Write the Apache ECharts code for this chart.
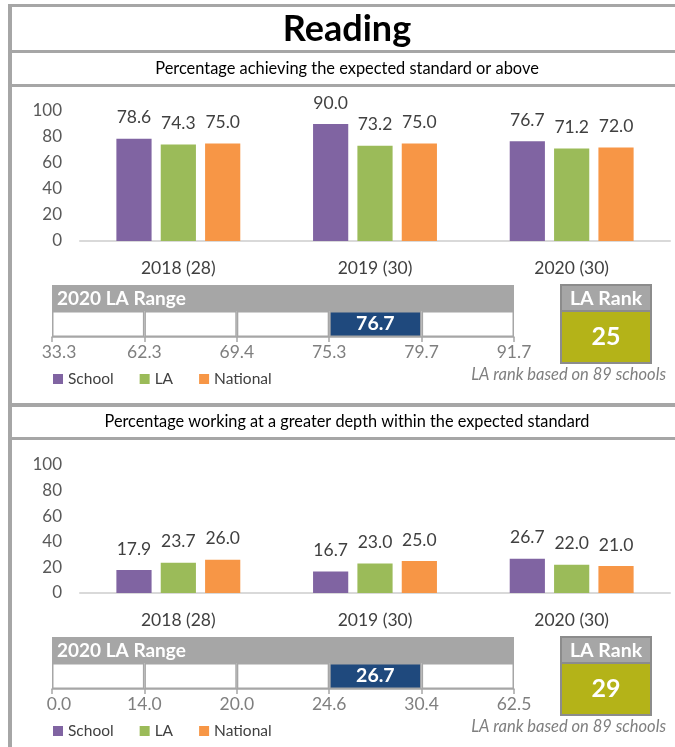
<!DOCTYPE html>
<html><head><meta charset="utf-8">
<script src="https://cdn.jsdelivr.net/npm/echarts@6/dist/echarts.min.js"></script>
<style>html,body{margin:0;padding:0;background:#fff}#c{width:675px;height:747px}</style>
</head><body><div id="c"></div>
<script>
// ---- data ----
const categories = ['2018 (28)', '2019 (30)', '2020 (30)'];
const seriesNames = ['School', 'LA', 'National'];
const expSchool = [78.6, 90.0, 76.7];
const expLA = [74.3, 73.2, 71.2];
const expNational = [75.0, 75.0, 72.0];
const gdSchool = [17.9, 16.7, 26.7];
const gdLA = [23.7, 23.0, 22.0];
const gdNational = [26.0, 25.0, 21.0];
const expRangeBounds = ['33.3', '62.3', '69.4', '75.3', '79.7', '91.7'];
const gdRangeBounds = ['0.0', '14.0', '20.0', '24.6', '30.4', '62.5'];
const rangeBands = [1, 1, 1, 1, 1];
const expSchoolBand = 3;
const gdSchoolBand = 3;
const expSchool2020 = '76.7';
const gdSchool2020 = '26.7';
const expRank = '25';
const gdRank = '29';
const rankSchools = 89;
const titleText = 'Reading';
const expSubtitle = 'Percentage achieving the expected standard or above';
const gdSubtitle = 'Percentage working at a greater depth within the expected standard';
const rangeTitle = '2020 LA Range';

// ---- styles ----
const FONT = 'Lato, "Open Sans", sans-serif';
const colors = ['#8064a2', '#9bbb59', '#f79646'];
const GRAY = '#a6a6a6';
const NAVY = '#1f497d';
const OLIVE = '#b4b318';

const chart = echarts.init(document.getElementById('c'));

function barSeries(vals, i, axisIdx) {
  return {
    type: 'bar', name: seriesNames[i], xAxisIndex: axisIdx, yAxisIndex: axisIdx,
    data: vals, barGap: '26%', barCategoryGap: '37%',
    itemStyle: { color: colors[i] },
    label: { show: true, position: 'top', distance: 12, formatter: p => p.value.toFixed(1),
      color: '#404040', fontSize: 17.5, fontFamily: FONT },
    emphasis: { disabled: true }
  };
}
function rangeSeries(band, schoolVal, axisIdx, stackName) {
  return rangeBands.map((v, i) => ({
    type: 'bar', xAxisIndex: axisIdx, yAxisIndex: axisIdx, stack: stackName,
    data: [v], barWidth: '100%', silent: true,
    itemStyle: { color: i === band ? NAVY : '#ffffff', borderColor: GRAY, borderWidth: 1.5 },
    label: i === band ? { show: true, position: 'inside', formatter: schoolVal, color: '#fff',
      fontWeight: 'bold', fontSize: 19.5, fontFamily: FONT } : { show: false }
  }));
}
function barX(gi) {
  return { type: 'category', gridIndex: gi, data: categories,
    axisLine: { lineStyle: { color: '#d9d9d9', width: 2 } }, axisTick: { show: false },
    axisLabel: { color: '#404040', fontSize: 17.5, fontFamily: FONT, margin: 18 } };
}
function barY(gi) {
  return { type: 'value', gridIndex: gi, min: 0, max: 100, interval: 20,
    axisLine: { show: false }, axisTick: { show: false }, splitLine: { show: false },
    axisLabel: { color: '#595959', fontSize: 17, fontFamily: FONT, margin: 18 } };
}
function rangeX(gi, bounds) {
  return { type: 'value', gridIndex: gi, min: 0, max: 5, interval: 1,
    axisLine: { show: true, lineStyle: { color: GRAY, width: 1.5 } },
    axisTick: { show: true, length: 5, lineStyle: { color: GRAY, width: 1.5 } },
    splitLine: { show: false },
    axisLabel: { color: '#7f7f7f', fontSize: 17.5, fontFamily: FONT, margin: 6,
      formatter: v => v === 0 ? '{f|' + bounds[v] + '}' : bounds[v],
      rich: { f: { padding: [0, 0, 0, 14], color: '#7f7f7f', fontSize: 17.5, fontFamily: FONT } } } };
}
function rangeY(gi) {
  return { type: 'category', gridIndex: gi, data: [''], show: false };
}

function rankBox(y0, rank, noteY) {
  return [
    { type: 'rect', shape: { x: 561, y: y0, width: 90, height: 78 }, style: { fill: OLIVE } },
    { type: 'rect', shape: { x: 561, y: y0, width: 90, height: 26 }, style: { fill: GRAY } },
    { type: 'rect', shape: { x: 561, y: y0, width: 90, height: 78 }, style: { fill: null, stroke: '#8c8c8c', lineWidth: 2 } },
    { type: 'line', shape: { x1: 561, y1: y0 + 26, x2: 651, y2: y0 + 26 }, style: { stroke: '#8c8c8c', lineWidth: 2 } },
    { type: 'text', style: { text: 'LA Rank', x: 606, y: y0 + 13.5, textAlign: 'center', textVerticalAlign: 'middle',
      font: 'bold 19.5px ' + FONT, fill: '#fff' } },
    { type: 'text', style: { text: rank, x: 606, y: y0 + 52, textAlign: 'center', textVerticalAlign: 'middle',
      font: 'bold 25px ' + FONT, fill: '#fff' } },
    { type: 'text', style: { text: 'LA rank based on ' + rankSchools + ' schools', x: 666, y: noteY, textAlign: 'right',
      textVerticalAlign: 'middle', font: 'italic 16.5px ' + FONT, fill: '#7f7f7f' } }
  ];
}
function rangeHeader(y0) {
  return [
    { type: 'rect', shape: { x: 52, y: y0, width: 462, height: 26 }, style: { fill: GRAY } },
    { type: 'text', style: { text: rangeTitle, x: 57, y: y0 + 13.5, textAlign: 'left', textVerticalAlign: 'middle',
      font: 'bold 19px ' + FONT, fill: '#fff' } }
  ];
}

const graphic = [
  { type: 'rect', shape: { x: 8, y: 4, width: 667, height: 3 }, style: { fill: GRAY } },
  { type: 'rect', shape: { x: 8, y: 4, width: 4, height: 743 }, style: { fill: GRAY } },
  { type: 'rect', shape: { x: 8, y: 50, width: 667, height: 3 }, style: { fill: GRAY } },
  { type: 'rect', shape: { x: 8, y: 84, width: 667, height: 3 }, style: { fill: GRAY } },
  { type: 'rect', shape: { x: 8, y: 403, width: 667, height: 4 }, style: { fill: GRAY } },
  { type: 'rect', shape: { x: 8, y: 437, width: 667, height: 3 }, style: { fill: GRAY } },
  { type: 'text', style: { text: titleText, x: 347, y: 29, textAlign: 'center', textVerticalAlign: 'middle',
    font: 'bold 36px ' + FONT, fill: '#000' } },
  { type: 'text', style: { text: expSubtitle, x: 347, y: 69, textAlign: 'center', textVerticalAlign: 'middle',
    font: '16.4px ' + FONT, fill: '#000' } },
  { type: 'text', style: { text: gdSubtitle, x: 347, y: 422, textAlign: 'center', textVerticalAlign: 'middle',
    font: '16.3px ' + FONT, fill: '#000' } },
  ...rangeHeader(285), ...rangeHeader(637),
  ...rankBox(285, expRank, 375), ...rankBox(637, gdRank, 727)
];

const legendBase = { data: seriesNames, left: 48, itemWidth: 10, itemHeight: 10, icon: 'rect', itemGap: 26,
  textStyle: { color: '#404040', fontSize: 15.5, fontFamily: FONT }, selectedMode: false };

chart.setOption({
  animation: false,
  color: colors,
  textStyle: { fontFamily: FONT },
  grid: [
    { left: 80, right: 5, top: 111, height: 130 },
    { left: 52, width: 462, top: 311, height: 26 },
    { left: 80, right: 5, top: 465, height: 128 },
    { left: 52, width: 462, top: 663, height: 26 }
  ],
  xAxis: [barX(0), rangeX(1, expRangeBounds), barX(2), rangeX(3, gdRangeBounds)],
  yAxis: [barY(0), rangeY(1), barY(2), rangeY(3)],
  legend: [Object.assign({ top: 366 }, legendBase), Object.assign({ top: 718 }, legendBase)],
  graphic: graphic,
  series: [
    barSeries(expSchool, 0, 0), barSeries(expLA, 1, 0), barSeries(expNational, 2, 0),
    ...rangeSeries(expSchoolBand, expSchool2020, 1, 'r1'),
    barSeries(gdSchool, 0, 2), barSeries(gdLA, 1, 2), barSeries(gdNational, 2, 2),
    ...rangeSeries(gdSchoolBand, gdSchool2020, 3, 'r2')
  ]
});
</script></body></html>
